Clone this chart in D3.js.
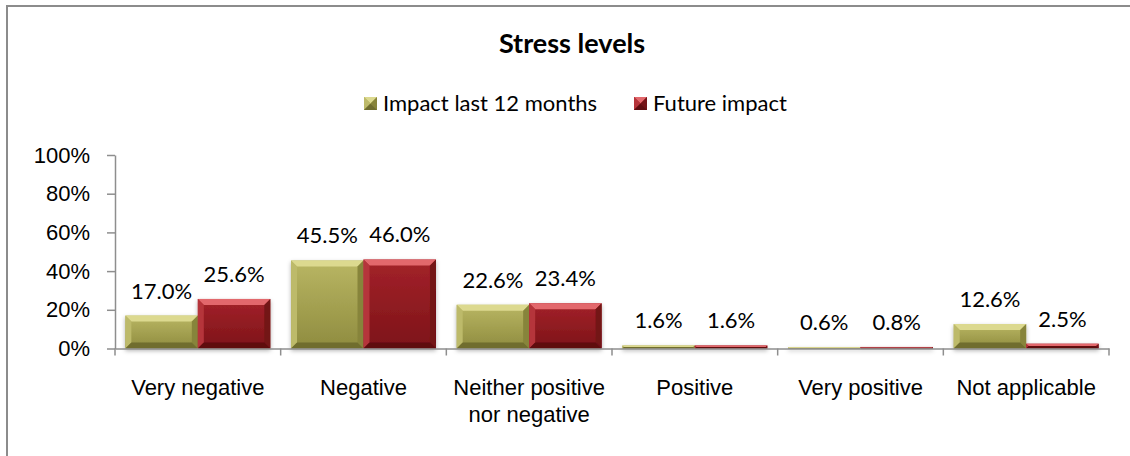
<!DOCTYPE html>
<html>
<head>
<meta charset="utf-8">
<script src="https://cdn.jsdelivr.net/npm/d3@7"></script>
<style>
  body { margin: 0; background: #fff; }
  svg { display: block; font-family: Lato, "Open Sans", sans-serif; }
</style>
</head>
<body>
<script>
var categories = ["Very negative", "Negative", "Neither positive nor negative", "Positive", "Very positive", "Not applicable"];
var seriesNames = ["Impact last 12 months", "Future impact"];
var impactLast = [17.0, 45.5, 22.6, 1.6, 0.6, 12.6];
var futureImpact = [25.6, 46.0, 23.4, 1.6, 0.8, 2.5];
var yTicks = [0, 20, 40, 60, 80, 100];

var width = 1130,
    height = 456;

// colours for each series: face top, face bottom, top bevel, left, right, bottom bevel
var palette = [
  {top: "#b9b663", bottom: "#8f8c3f", hi: "#dcd98f", left: "#bdba6a", right: "#87843a", lo: "#6f6d2f"},
  {top: "#a3222a", bottom: "#7d1418", hi: "#e2686c", left: "#b5343a", right: "#731216", lo: "#5e0d10"}
];

var svg = d3.select("body").append("svg")
    .attr("width", width)
    .attr("height", height);

var defs = svg.append("defs");
palette.forEach(function(p, i) {
  var g = defs.append("linearGradient")
      .attr("id", "face" + i)
      .attr("x1", 0).attr("y1", 0).attr("x2", 0).attr("y2", 1);
  g.append("stop").attr("offset", "0%").attr("stop-color", p.top);
  g.append("stop").attr("offset", "100%").attr("stop-color", p.bottom);
});
defs.append("filter").attr("id", "shadow")
    .attr("x", "-10%").attr("y", "-10%").attr("width", "120%").attr("height", "130%")
  .append("feDropShadow")
    .attr("dx", 0).attr("dy", 2).attr("stdDeviation", 2)
    .attr("flood-color", "#000").attr("flood-opacity", 0.3);

// chart border (runs off the right and bottom)
svg.append("rect")
    .attr("x", 7).attr("y", 6)
    .attr("width", 1140).attr("height", 470)
    .attr("fill", "#fff")
    .attr("stroke", "#8c8c8c")
    .attr("stroke-width", 2);

svg.append("text")
    .attr("x", 572).attr("y", 53)
    .attr("text-anchor", "middle")
    .attr("font-size", "27px")
    .attr("font-weight", "bold")
    .text("Stress levels");

var x0 = d3.scaleBand()
    .domain(categories)
    .range([115, 1109]);

var x1 = d3.scaleBand()
    .domain(seriesNames)
    .range([0, x0.bandwidth()])
    .paddingOuter(0.143);

var y = d3.scaleLinear()
    .domain([0, 100])
    .range([348.5, 155]);

// y axis
var yAxis = svg.append("g")
    .attr("transform", "translate(115,0)")
    .call(d3.axisLeft(y).tickValues(yTicks).tickSize(8).tickSizeOuter(0).tickPadding(17)
      .tickFormat(function(d) { return d + "%"; }));
yAxis.selectAll("path, line").attr("stroke", "#8e8e8e").attr("stroke-width", 1.5);
yAxis.selectAll("text").attr("font-size", "22px").attr("font-family", null).attr("fill", "#000");

// bars
var bevel = function(g, x, yTop, w, h, p, i) {
  var b = Math.min(6, h / 2, w / 2);
  var x2 = x + w, y2 = yTop + h;
  var pts = function(a) { return a.map(function(d) { return d.join(","); }).join(" "); };
  g.append("rect").attr("x", x).attr("y", yTop).attr("width", w).attr("height", h)
      .attr("fill", "url(#face" + i + ")");
  g.append("polygon").attr("points", pts([[x, yTop], [x2, yTop], [x2 - b, yTop + b], [x + b, yTop + b]])).attr("fill", p.hi);
  g.append("polygon").attr("points", pts([[x, yTop], [x + b, yTop + b], [x + b, y2 - b], [x, y2]])).attr("fill", p.left);
  g.append("polygon").attr("points", pts([[x2, yTop], [x2, y2], [x2 - b, y2 - b], [x2 - b, yTop + b]])).attr("fill", p.right);
  g.append("polygon").attr("points", pts([[x, y2], [x + b, y2 - b], [x2 - b, y2 - b], [x2, y2]])).attr("fill", p.lo);
};

var seriesValues = [impactLast, futureImpact];
var bars = svg.append("g").attr("filter", "url(#shadow)");
seriesValues.forEach(function(vals, i) {
  vals.forEach(function(v, j) {
    var bx = x0(categories[j]) + x1(seriesNames[i]);
    bevel(bars.append("g"), bx, y(v), x1.bandwidth(), y(0) - y(v), palette[i], i);
  });
});

// value labels
seriesValues.forEach(function(vals, i) {
  svg.append("g").selectAll("text")
    .data(vals)
    .enter().append("text")
      .attr("x", function(d, j) { return x0(categories[j]) + x1(seriesNames[i]) + x1.bandwidth() / 2; })
      .attr("y", function(d) { return y(d) - 17; })
      .attr("text-anchor", "middle")
      .attr("font-size", "22px")
      .text(function(d) { return d.toFixed(1) + "%"; });
});

// x axis
var xAxis = svg.append("g")
    .attr("transform", "translate(0," + y(0) + ")")
    .call(d3.axisBottom(x0).tickSize(0).tickPadding(31));
xAxis.select(".domain").attr("stroke", "#8e8e8e").attr("stroke-width", 1.5);
xAxis.selectAll("text").attr("font-size", "22px").attr("font-family", null).attr("fill", "#000")
    .call(wrap, 160);

xAxis.selectAll(".divider")
    .data(d3.range(categories.length + 1))
    .enter().append("line")
      .attr("x1", function(d) { return x0.range()[0] + d * x0.step(); })
      .attr("x2", function(d) { return x0.range()[0] + d * x0.step(); })
      .attr("y1", 0).attr("y2", 7)
      .attr("stroke", "#8e8e8e").attr("stroke-width", 1.5);

// legend
var legendX = [364, 634];
var legend = svg.append("g").selectAll("g")
    .data(seriesNames)
    .enter().append("g")
      .attr("transform", function(d, i) { return "translate(" + legendX[i] + ",97)"; });
legend.each(function(d, i) { bevel(d3.select(this), 0, 0, 13, 13, palette[i], i); });
legend.append("text")
    .attr("x", 19).attr("y", 14)
    .attr("font-size", "22px")
    .text(function(d) { return d; });

function wrap(text, w) {
  text.each(function() {
    var t = d3.select(this),
        words = t.text().split(/\s+/).reverse(),
        word, line = [], lineNo = 0,
        yy = t.attr("y"), dy = parseFloat(t.attr("dy")),
        tspan = t.text(null).append("tspan").attr("x", 0).attr("y", yy).attr("dy", dy + "em");
    while ((word = words.pop())) {
      line.push(word);
      tspan.text(line.join(" "));
      if (tspan.node().getComputedTextLength() > w && line.length > 1) {
        line.pop();
        tspan.text(line.join(" "));
        line = [word];
        tspan = t.append("tspan").attr("x", 0).attr("y", yy)
            .attr("dy", ++lineNo * 1.2 + dy + "em").text(word);
      }
    }
  });
}
</script>
</body>
</html>
